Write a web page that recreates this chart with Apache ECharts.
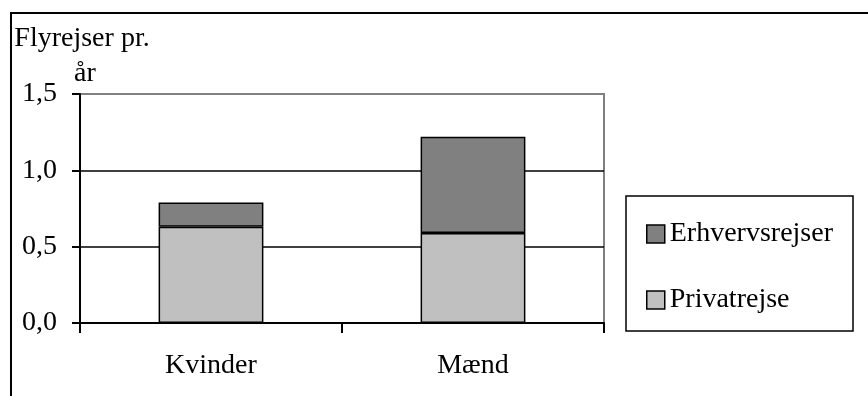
<!DOCTYPE html>
<html>
<head>
<meta charset="utf-8">
<script src="https://cdn.jsdelivr.net/npm/echarts@6/dist/echarts.min.js"></script>
<style>
html,body{margin:0;padding:0;background:#fff;}
#chart{width:868px;height:396px;}
</style>
</head>
<body>
<div id="chart"></div>
<script>
var categories = ['Kvinder', 'Mænd'];
var privatrejse = [0.63, 0.59];
var erhvervsrejser = [0.16, 0.63];
var yTicks = { min: 0, max: 1.5, interval: 0.5 };
var titleLines = ['Flyrejser pr.', 'år'];
var seriesNames = ['Erhvervsrejser', 'Privatrejse'];

var FONT = "'Liberation Serif', 'Times New Roman', serif";
var FS = 28;

var chart = echarts.init(document.getElementById('chart'), null, { renderer: 'canvas' });
chart.setOption({
  animation: false,
  backgroundColor: '#fff',
  textStyle: { fontFamily: FONT, color: '#000' },
  grid: {
    left: 80, top: 94, right: 264, bottom: 73,
    show: true, borderColor: '#808080', borderWidth: 2, backgroundColor: 'transparent'
  },
  graphic: [
    { type: 'line', shape: { x1: 10, y1: 13, x2: 868, y2: 13 }, style: { stroke: '#000', lineWidth: 2 } },
    { type: 'line', shape: { x1: 11, y1: 12, x2: 11, y2: 396 }, style: { stroke: '#000', lineWidth: 2 } },
    { type: 'text', x: 82, y: 39, style: { text: titleLines[0], font: FS + 'px ' + FONT, fill: '#000', textAlign: 'center', textVerticalAlign: 'middle' } },
    { type: 'text', x: 85, y: 74, style: { text: titleLines[1], font: FS + 'px ' + FONT, fill: '#000', textAlign: 'center', textVerticalAlign: 'middle' } }
  ],
  legend: {
    data: seriesNames,
    orient: 'vertical',
    left: 626, top: 196,
    padding: [24, 20, 17, 20],
    itemGap: 38,
    itemWidth: 18, itemHeight: 18,
    icon: 'rect',
    borderColor: '#000', borderWidth: 1.5,
    itemStyle: { borderColor: '#000', borderWidth: 1.5 },
    textStyle: { fontFamily: FONT, fontSize: FS, color: '#000', padding: [0, 0, 0, 0] }
  },
  xAxis: {
    type: 'category',
    data: categories,
    axisLine: { show: true, lineStyle: { color: '#000', width: 2 } },
    axisTick: { show: true, length: 10, lineStyle: { color: '#000', width: 2 } },
    axisLabel: { margin: 29, fontFamily: FONT, fontSize: FS, color: '#000' },
    splitLine: { show: false }
  },
  yAxis: {
    type: 'value',
    min: yTicks.min, max: yTicks.max, interval: yTicks.interval,
    axisLine: { show: true, lineStyle: { color: '#000', width: 2 } },
    axisTick: { show: true, length: 8, lineStyle: { color: '#000', width: 2 } },
    axisLabel: {
      margin: 23, fontFamily: FONT, fontSize: FS, color: '#000',
      formatter: function (v) { return v.toFixed(1).replace('.', ','); }
    },
    splitLine: { show: true, showMinLine: false, showMaxLine: false, lineStyle: { color: '#000', width: 1.5 } }
  },
  series: [
    {
      name: seriesNames[1], type: 'bar', stack: 'total', data: privatrejse,
      barWidth: '40%',
      itemStyle: { color: '#c0c0c0', borderColor: '#000', borderWidth: 1.5 }
    },
    {
      name: seriesNames[0], type: 'bar', stack: 'total', data: erhvervsrejser,
      barWidth: '40%',
      itemStyle: { color: '#808080', borderColor: '#000', borderWidth: 1.5 }
    }
  ]
});
</script>
</body>
</html>
